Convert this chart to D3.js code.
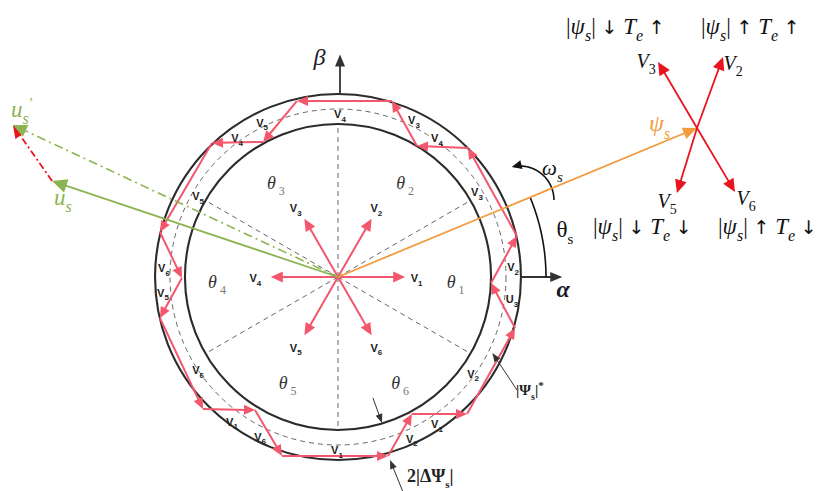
<!DOCTYPE html>
<html><head><meta charset="utf-8">
<script src="https://cdn.jsdelivr.net/npm/d3@7"></script>
<style>body{margin:0;background:#fff}svg{display:block}</style>
</head><body><svg id="c" width="829" height="491"></svg>
<script>
// Stator flux plane (α, β) in units of the reference flux |Ψs|* = 1
const fluxRef = 1.0;
const bandHalf = 0.089;                       // hysteresis half-band |ΔΨs|
const sectorBoundaries = [30, 90, 150, 210, 270, 330];
const vectorAngles = [0, 60, 120, 180, 240, 300];
const vectorNames = ["1", "2", "3", "4", "5", "6"];
const vectorLength = 0.40;
const vectorLabelRadius = 0.48;
const sectorNames = ["1", "2", "3", "4", "5", "6"];
const sectorLabelPos = [[0.70, -0.03], [0.40, 0.56], [-0.37, 0.56], [-0.72, -0.03], [-0.30, -0.63], [0.37, -0.63]];

// flux trajectory inside the band (α, β), counter-clockwise
const trajectory = [
  [-0.244, 1.048], [-0.446, 0.804], [-0.750, 0.798], [-1.060, 0.268], [-0.929, -0.006],
  [-1.060, -0.244], [-0.804, -0.786], [-0.494, -0.792], [-0.333, -1.065], [0.298, -1.065],
  [0.440, -0.815], [0.768, -0.815], [1.054, -0.304], [0.911, -0.036], [1.065, 0.244],
  [0.774, 0.768], [0.470, 0.780], [0.321, 1.048]
];
const stepNames = ["V", "V", "V", "V", "V", "V", "V", "V", "V", "V", "V", "V", "V", "V", "V", "U", "V", "V"];
const stepSubs  = ["4", "3", "4", "5", "4", "5", "6", "5", "6", "1", "6", "1", "2", "1", "2", "3", "2", "3"];
const stepPos = [
  [0.012, 0.975], [0.452, 0.940], [0.589, 0.833], [-0.452, 0.923], [-0.601, 0.833],
  [-0.833, 0.488], [-1.036, 0.059], [-1.042, -0.089], [-0.833, -0.548], [-0.631, -0.857],
  [-0.464, -0.946], [-0.006, -1.024], [0.440, -0.958], [0.589, -0.869], [0.804, -0.571],
  [1.036, -0.125], [1.042, 0.065], [0.827, 0.512]
];

// stator flux and voltage vectors
const psiS = [2.137, 0.887];
const usTip = [-1.702, 0.571];
const usPrimeTip = [-1.935, 0.905];
const thetaS = 22.5;

// switching choices drawn at the tip of ψs
const switchNames = ["3", "2", "5", "6"];
const switchVecs = [[-0.232, 0.393], [0.155, 0.423], [-0.119, -0.387], [0.226, -0.381]];
const fluxArrows = ["↓", "↑", "↓", "↑"];
const torqueArrows = ["↑", "↑", "↓", "↓"];

const svg = d3.select("#c");
const cx = 338, cy = 277, k = 168;
const x = d3.scaleLinear().domain([-1, 1]).range([cx - k, cx + k]);
const y = d3.scaleLinear().domain([-1, 1]).range([cy + k, cy - k]);
const rad = d => Math.PI * d / 180;
const px = p => [x(p[0]), y(p[1])];

const PINK = "#f4566b", RED = "#e8141e", GREEN = "#8cb453", ORANGE = "#f39a3c", INK = "#2b2b2b";
const SERIF = "'Liberation Serif','DejaVu Serif',serif";
const SANS = "'Liberation Sans',Arial,sans-serif";

function arrow(g, a, b, o) {
  const len = o.len || 10, hw = o.hw || 4.5;
  const dx = b[0] - a[0], dy = b[1] - a[1], L = Math.hypot(dx, dy), ux = dx / L, uy = dy / L;
  const bx = b[0] - ux * len, by = b[1] - uy * len;
  const ln = g.append("line").attr("x1", a[0]).attr("y1", a[1])
    .attr("x2", b[0] - ux * len * 0.7).attr("y2", b[1] - uy * len * 0.7)
    .attr("stroke", o.color).attr("stroke-width", o.w || 2);
  if (o.dash) ln.attr("stroke-dasharray", o.dash);
  g.append("polygon").attr("points",
    [[b[0], b[1]], [bx - uy * hw, by + ux * hw], [bx + uy * hw, by - ux * hw]].map(p => p.join(",")).join(" "))
    .attr("fill", o.headColor || o.color);
}

function head(g, tip, dir, len, hw, color) {
  const [ux, uy] = dir, bx = tip[0] - ux * len, by = tip[1] - uy * len;
  g.append("polygon").attr("points",
    [[tip[0], tip[1]], [bx - uy * hw, by + ux * hw], [bx + uy * hw, by - ux * hw]].map(p => p.join(",")).join(" "))
    .attr("fill", color);
}

// rich text: parts = [{t, it, sub, sup, size, fill, weight, family}]
function rich(g, px0, py0, parts, base) {
  const t = g.append("text").attr("x", px0).attr("y", py0)
    .attr("font-family", base.family).attr("font-size", base.size)
    .attr("fill", base.fill || INK).attr("font-weight", base.weight || "normal")
    .attr("text-anchor", base.anchor || "start");
  let shift = 0;
  parts.forEach(p => {
    const s = t.append("tspan").text(p.t);
    const target = p.sub ? base.size * 0.32 : p.sup ? -base.size * 0.4 : 0;
    s.attr("dy", target - shift); shift = target;
    if (p.sub || p.sup) s.attr("font-size", p.size || base.size * 0.7);
    else if (p.size) s.attr("font-size", p.size);
    if (p.it) s.attr("font-style", "italic");
    if (p.fill) s.attr("fill", p.fill);
    if (p.weight) s.attr("font-weight", p.weight);
    if (p.family) s.attr("font-family", p.family);
  });
  return t;
}

const g = svg.append("g");

// sector boundaries (dashed, centre to inner band edge)
sectorBoundaries.forEach(a => {
  const r = fluxRef - bandHalf;
  g.append("line").attr("x1", x(0)).attr("y1", y(0))
    .attr("x2", x(r * Math.cos(rad(a)))).attr("y2", y(r * Math.sin(rad(a))))
    .attr("stroke", "#555").attr("stroke-width", 0.9).attr("stroke-dasharray", "5,4");
});

// band circles
[[fluxRef + bandHalf, 2.1, null, INK], [fluxRef - bandHalf, 2.1, null, INK], [fluxRef, 0.9, "5,4", "#555"]].forEach(([r, w, d, c]) => {
  const e = g.append("ellipse").attr("cx", x(0)).attr("cy", y(0))
    .attr("rx", x(r) - x(0)).attr("ry", y(0) - y(r))
    .attr("fill", "none").attr("stroke", c).attr("stroke-width", w);
  if (d) e.attr("stroke-dasharray", d);
});

// α, β axes
arrow(g, [x(fluxRef + bandHalf), y(0)], [x(1.335), y(0)], {color: "#333", w: 1.8, len: 12, hw: 5});
arrow(g, [x(0.012), y(fluxRef + bandHalf)], [x(0.012), y(1.325)], {color: "#333", w: 1.8, len: 12, hw: 5});
g.append("text").attr("x", x(1.34)).attr("y", y(-0.12)).attr("text-anchor", "middle")
  .attr("font-family", SERIF).attr("font-style", "italic").attr("font-weight", "bold")
  .attr("font-size", 24).attr("fill", "#1a1a2a").text("α");
g.append("text").attr("x", x(-0.11)).attr("y", y(1.26)).attr("text-anchor", "middle")
  .attr("font-family", SERIF).attr("font-style", "italic")
  .attr("font-size", 24).attr("fill", "#1a1a2a").text("β");

// voltage space vectors
vectorAngles.forEach((a, i) => {
  const tip = [x(vectorLength * Math.cos(rad(a))), y(vectorLength * Math.sin(rad(a)))];
  arrow(g, [x(0), y(0)], tip, {color: PINK, w: 2, len: 12, hw: 5.5});
  const lp = [x(vectorLabelRadius * Math.cos(rad(a))), y(vectorLabelRadius * Math.sin(rad(a)))];
  rich(g, lp[0] - 2, lp[1] + 5, [{t: "V"}, {t: vectorNames[i], sub: true, size: 8}],
    {family: SANS, size: 11, weight: "bold", anchor: "middle", fill: "#222"});
});

// sector labels
sectorNames.forEach((n, i) => {
  const p = sectorLabelPos[i];
  rich(g, x(p[0]), y(p[1]) + 6, [{t: "θ", it: true}, {t: " " + n, sub: true, size: 12, fill: "#777"}],
    {family: SERIF, size: 18, anchor: "middle", fill: "#333"});
});

// flux trajectory
const T = trajectory.map(px);
T.forEach((p, i) => {
  const q = T[(i + 1) % T.length];
  arrow(g, p, q, {color: PINK, w: 2, len: 11, hw: 5});
});
stepPos.forEach((p, i) => {
  rich(g, x(p[0]), y(p[1]) + 5, [{t: stepNames[i]}, {t: stepSubs[i], sub: true, size: 8}],
    {family: SANS, size: 11, weight: "bold", anchor: "middle", fill: "#222"});
});

// θs angle arc
const arcR = 1.238;
const arcPts = d3.range(0, thetaS + 0.01, 0.5).map(a => [x(arcR * Math.cos(rad(a))), y(arcR * Math.sin(rad(a)))]);
g.append("path").attr("d", d3.line()(arcPts)).attr("fill", "none").attr("stroke", "#111").attr("stroke-width", 1.6);
rich(g, x(1.30), y(0.24), [{t: "θ"}, {t: "s", sub: true, size: 15}],
  {family: SERIF, size: 23, fill: "#111"});

// ωs rotation arrow
const wc = [x(1.083), y(0.458)], wr = 34;
const wPts = d3.range(0, -101, -2).map(a => [wc[0] + wr * Math.cos(rad(a)), wc[1] + wr * Math.sin(rad(a))]);
g.append("path").attr("d", d3.line()(wPts)).attr("fill", "none").attr("stroke", "#111").attr("stroke-width", 1.6);
{
  const a = rad(-104), tip = [wc[0] + wr * Math.cos(a), wc[1] + wr * Math.sin(a)];
  head(g, tip, [Math.sin(a), -Math.cos(a)], 10, 4.5, "#111");
}
rich(g, x(1.215), y(0.605), [{t: "ω", it: true}, {t: "s", it: true, sub: true, size: 15}],
  {family: SERIF, size: 21, fill: "#111"});

// stator flux vector ψs
arrow(g, [x(0), y(0)], px(psiS), {color: ORANGE, w: 1.8, len: 14, hw: 6});
rich(g, x(psiS[0]) - 48, y(psiS[1]) + 3, [{t: "ψ", it: true}, {t: "s", it: true, sub: true, size: 16}],
  {family: SERIF, size: 24, fill: ORANGE});

// switching vectors at the tip of ψs
const tipP = px(psiS);
switchVecs.forEach(v => {
  const end = [tipP[0] + (x(v[0]) - x(0)), tipP[1] + (y(v[1]) - y(0))];
  arrow(g, tipP, end, {color: RED, w: 1.8, len: 13, hw: 6});
});
const switchLabelOff = [[-51, -60], [36, -58], [-30, 80], [49, 77]];
switchNames.forEach((n, i) => {
  const o = switchLabelOff[i];
  rich(g, tipP[0] + o[0], tipP[1] + o[1], [{t: "V", it: true}, {t: n, sub: true, size: 14}],
    {family: SERIF, size: 20, fill: "#111", anchor: "middle"});
});
const rowPos = [[566, 34], [701, 34], [593, 234], [718, 234]];
fluxArrows.forEach((fa, i) => {
  rich(g, rowPos[i][0], rowPos[i][1],
    [{t: "|"}, {t: "ψ", it: true}, {t: "s", it: true, sub: true, size: 16}, {t: "| "},
     {t: fa, family: "'DejaVu Sans',sans-serif", size: 19}, {t: " "},
     {t: "T", it: true}, {t: "e", it: true, sub: true, size: 16}, {t: " "},
     {t: torqueArrows[i], family: "'DejaVu Sans',sans-serif", size: 19}],
    {family: SERIF, size: 23, fill: "#111"});
});

// stator voltage vectors
arrow(g, px(usTip), px(usPrimeTip), {color: RED, w: 1.8, len: 13, hw: 6, dash: "7,3,2,3"});
arrow(g, [x(0), y(0)], px(usPrimeTip), {color: GREEN, w: 1.6, len: 14, hw: 6.5, dash: "9,4,2,4"});
arrow(g, [x(0), y(0)], px(usTip), {color: GREEN, w: 1.8, len: 15, hw: 7});
rich(g, x(usPrimeTip[0]) - 2, y(usPrimeTip[1]) - 8,
  [{t: "u", it: true}, {t: "s", it: true, sub: true, size: 16}, {t: "’", sup: true, size: 14}],
  {family: SERIF, size: 23, fill: GREEN});
rich(g, x(usTip[0]) + 2, y(usTip[1]) + 24,
  [{t: "u", it: true}, {t: "s", it: true, sub: true, size: 16}],
  {family: SERIF, size: 23, fill: GREEN});

// band annotations
arrow(g, [517, 390], px([0.919, -0.452]), {color: "#333", w: 1, len: 9, hw: 3.5});
rich(g, 516, 395, [{t: "|Ψ"}, {t: "s", sub: true, size: 10}, {t: "|"}, {t: "*", sup: true, size: 11}],
  {family: SERIF, size: 15, weight: "bold", fill: "#222"});
arrow(g, [x(0.208), y(-0.720)], [x(0.262), y(-0.869)], {color: "#333", w: 1, len: 9, hw: 3.5});
arrow(g, [x(0.387), y(-1.280)], [x(0.310), y(-1.089)], {color: "#333", w: 1, len: 9, hw: 3.5});
rich(g, 407, 482, [{t: "2|ΔΨ"}, {t: "s", sub: true, size: 11}, {t: "|"}],
  {family: SERIF, size: 18, weight: "bold", fill: "#222"});
</script></body></html>
